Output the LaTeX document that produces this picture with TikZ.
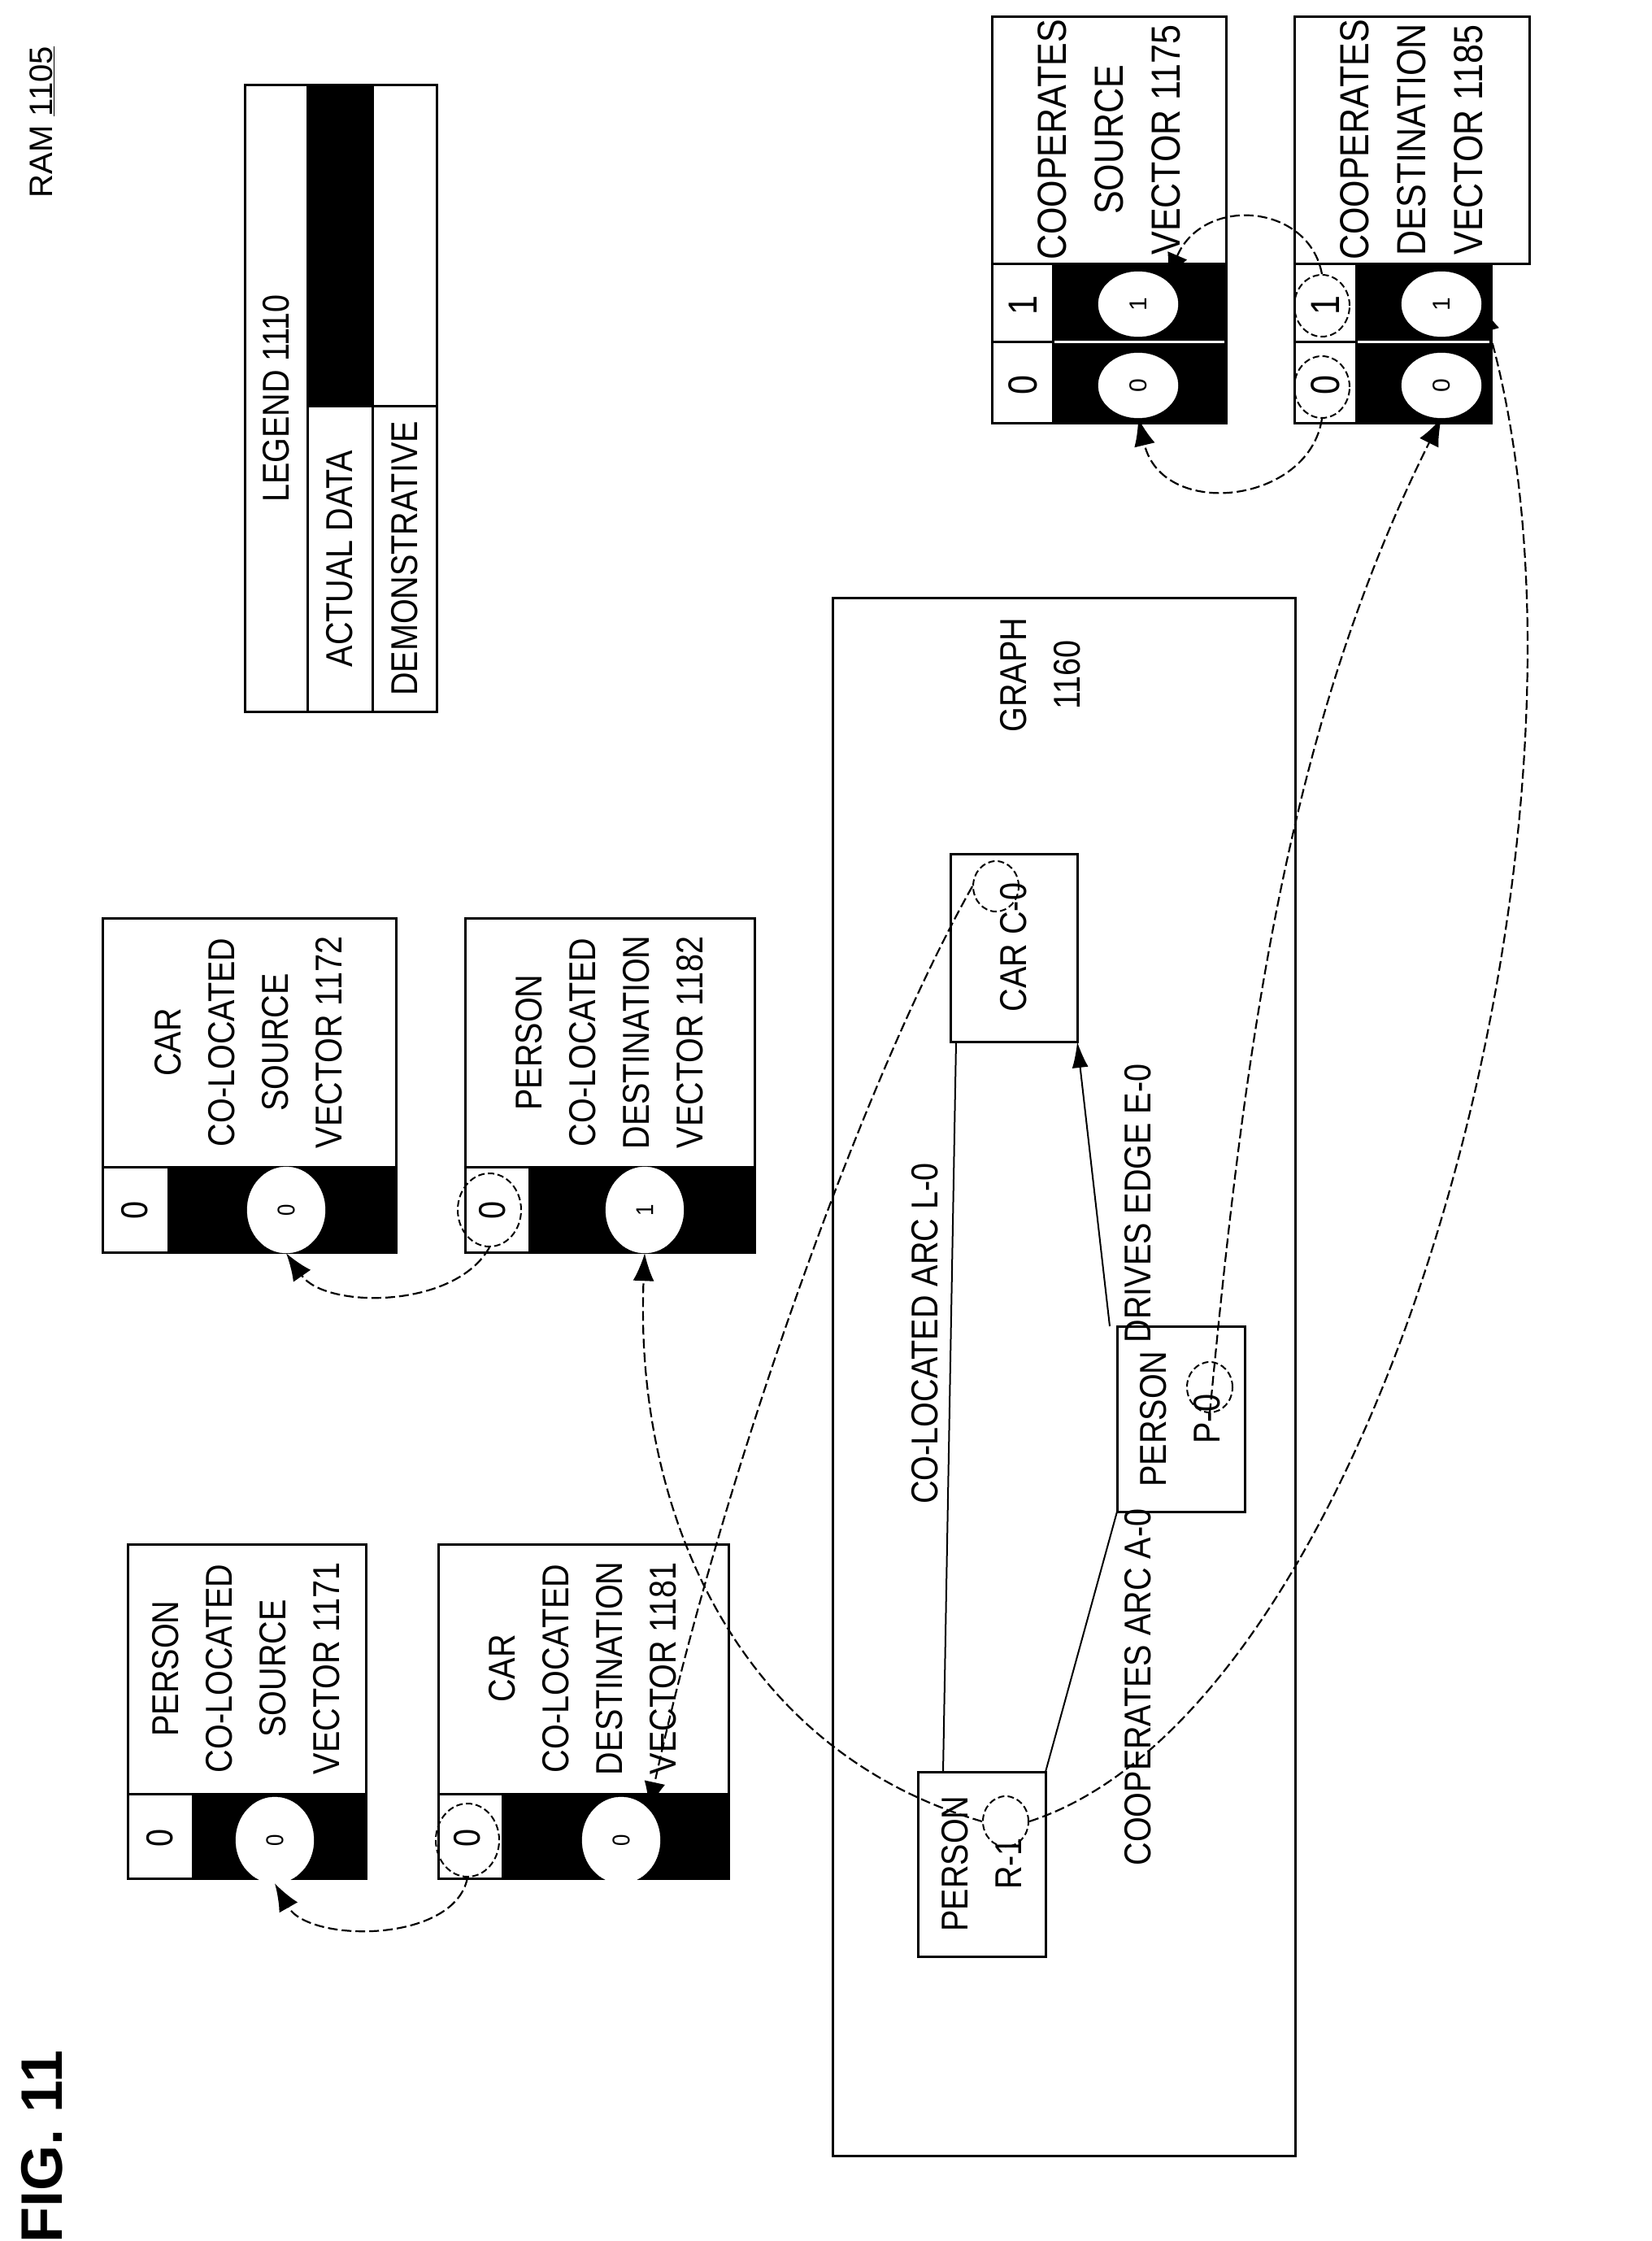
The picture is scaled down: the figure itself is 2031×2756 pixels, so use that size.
\documentclass[tikz,border=0pt]{standalone}
\usepackage{fontspec}
\setmainfont{Liberation Sans}
\newfontfamily\narrowf[FakeStretch=0.86]{Liberation Sans}
\usetikzlibrary{arrows.meta,calc,shapes.geometric}
\begin{document}
\begin{tikzpicture}[x=1pt,y=-1pt,
  bx/.style={draw,line width=3pt},
  lbl/.style={rotate=90,align=center,font=\narrowf\fontsize{46}{66}\selectfont},
  lblw/.style={rotate=90,align=center,font=\narrowf\fontsize{50}{70}\selectfont},
  cel/.style={draw=white,fill=white,ellipse,inner sep=0pt},
  dc/.style={draw,dash pattern=on 8pt off 4pt,line width=2pt,ellipse,inner sep=0pt},
  con/.style={dash pattern=on 12pt off 5pt,line width=2.2pt,-{Latex[length=34pt,width=26pt]}},
  sol/.style={line width=2pt}]
\useasboundingbox (0,0) rectangle (2031,2756);
% titles
\node[rotate=90,font=\bfseries\fontsize{72}{80}\selectfont] (fig) at (52,2640) {FIG. 11};
\node[rotate=90,font=\fontsize{40}{48}\selectfont] (ram) at (52,150) {RAM \underline{1105}};
% legend
\draw[bx] (301,105) rectangle (537,875);
\draw[bx] (378,105) -- (378,875) (458,105) -- (458,875) (378,499) -- (537,499);
\fill (378,105) rectangle (458,499);
\node[lbl] (lg) at (340,490) {LEGEND 1110};
\node[lbl] (lga) at (418,687) {ACTUAL DATA};
\node[lbl] (lgd) at (498,687) {DEMONSTRATIVE};
% left vectors
\foreach \xa/\xb/\xc/\ya/\yb/\yc in {126/487/207/1129/1540/1435, 572/928/651/1129/1540/1435, 157/450/237/1899/2310/2206, 539/896/618/1899/2310/2206}{
  \fill (\xc,\yc) rectangle (\xb,\yb);
  \draw[bx] (\xa,\ya) rectangle (\xb,\yb);
  \draw[bx] (\xa,\yc) -- (\xb,\yc) (\xc,\yc) -- (\xc,\yb);
}
\node[lbl] (t1172) at (306,1282) {CAR\\CO-LOCATED\\SOURCE\\VECTOR 1172};
\node[lbl] (t1182) at (750,1282) {PERSON\\CO-LOCATED\\DESTINATION\\VECTOR 1182};
\node[lbl] (t1171) at (303,2052) {PERSON\\CO-LOCATED\\SOURCE\\VECTOR 1171};
\node[lbl] (t1181) at (717,2052) {CAR\\CO-LOCATED\\DESTINATION\\VECTOR 1181};
\node[lbl] (z1172) at (166,1488) {0};
\node[lbl] (z1182) at (606,1488) {0};
\node[lbl] (z1171) at (197,2260) {0};
\node[lbl] (z1181) at (575,2260) {0};
\node[cel,minimum width=96pt,minimum height=106pt] (c1172) at (352,1488) {\narrowf\fontsize{30}{30}\selectfont\rotatebox{90}{0}};
\node[cel,minimum width=96pt,minimum height=106pt] (c1182) at (793,1488) {\narrowf\fontsize{30}{30}\selectfont\rotatebox{90}{1}};
\node[cel,minimum width=96pt,minimum height=106pt] (c1171) at (338,2263) {\narrowf\fontsize{30}{30}\selectfont\rotatebox{90}{0}};
\node[cel,minimum width=96pt,minimum height=106pt] (c1181) at (764,2263) {\narrowf\fontsize{30}{30}\selectfont\rotatebox{90}{0}};
\node[dc,minimum width=78pt,minimum height=90pt] (d1182) at (602,1488) {};
\node[dc,minimum width=78pt,minimum height=90pt] (d1181) at (575,2263) {};
% right vectors
\fill (1295,324) rectangle (1508,520);
\draw[bx] (1220,21) rectangle (1508,520);
\draw[bx] (1220,324) -- (1508,324) (1220,420) -- (1295,420) (1295,324) -- (1295,520);
\draw[white,line width=3pt] (1297,420) -- (1506,420);
\fill (1668,324) rectangle (1834,520);
\draw[bx] (1592,21) rectangle (1881,324) (1592,324) rectangle (1834,520);
\draw[bx] (1592,420) -- (1668,420) (1668,324) -- (1668,520);
\draw[white,line width=3pt] (1670,420) -- (1832,420);
\node[lblw] (t1175) at (1364,172) {COOPERATES\\SOURCE\\VECTOR 1175};
\node[lblw] (t1185) at (1736,172) {COOPERATES\\DESTINATION\\VECTOR 1185};
\node[lblw] (o1175) at (1258,376) {1};
\node[lblw] (n1175) at (1258,474) {0};
\node[lblw] (o1185) at (1630,376) {1};
\node[lblw] (n1185) at (1630,474) {0};
\foreach \n/\x/\y/\t in {c1175a/1400/374/1, c1175b/1400/474/0, c1185a/1773/374/1, c1185b/1773/474/0}{
  \node[cel,minimum width=98pt,minimum height=80pt] (\n) at (\x,\y) {\fontsize{30}{30}\selectfont\rotatebox{90}{\t}};
}
\node[dc,minimum width=68pt,minimum height=76pt] (d1185a) at (1626,376) {};
\node[dc,minimum width=68pt,minimum height=76pt] (d1185b) at (1626,476) {};
% graph
\draw[bx] (1024,735) rectangle (1593,2651);
\node[lbl] (gt) at (1280,830) {GRAPH\\1160};
\draw[bx] (1169,1050) rectangle (1325,1281);
\draw[bx] (1374,1631) rectangle (1531,1859);
\draw[bx] (1129,2179) rectangle (1286,2406);
\node[lbl] (c0) at (1247,1165) {CAR C-0};
\node[lbl] (p0) at (1452,1745) {PERSON\\P-0};
\node[lbl] (r1) at (1207,2292) {PERSON\\R-1};
\node[dc,minimum width=56pt,minimum height=62pt] (dc0) at (1225,1090) {};
\node[dc,minimum width=56pt,minimum height=62pt] (dp0) at (1488,1706) {};
\node[dc,minimum width=56pt,minimum height=62pt] (dr1) at (1237,2240) {};
\coordinate (r1a) at (1160,2179);
\coordinate (c0a) at (1176,1281);
\coordinate (r1b) at (1286,2179);
\coordinate (p0b) at (1374,1859);
\coordinate (p0c) at (1365,1631);
\coordinate (c0c) at (1325,1281);
\draw[sol] (r1a) -- (c0a);
\draw[sol] (r1b) -- (p0b);
\draw[sol,-{Latex[length=32pt,width=20pt]}] (p0c) -- (c0c);
\node[lbl] (la) at (1138,1640) {CO-LOCATED ARC L-0};
\node[lbl] (lb) at (1400,2075) {COOPERATES ARC A-0};
\node[lbl] (lc) at (1400,1480) {DRIVES EDGE E-0};
% connectors
\draw[con] (d1182.south) .. controls (560,1610) and (400,1610) .. (c1172.south);
\draw[con] (d1181.south) .. controls (560,2390) and (380,2390) .. (c1171.south);
\draw[con] (d1185a.north) .. controls (1610,250) and (1480,240) .. (c1175a.north east);
\draw[con] (d1185b.south) .. controls (1610,620) and (1430,640) .. (c1175b.south);
\draw[con] (dc0.west) .. controls (1050,1350) and (880,1850) .. (c1181.north east);
\draw[con] (dr1.west) .. controls (900,2150) and (780,1850) .. (c1182.south);
\draw[con] (dr1.east) .. controls (1700,2100) and (2000,1000) .. (c1185a.east);
\draw[con] (dp0.south) .. controls (1530,1300) and (1580,900) .. (c1185b.south);
\end{tikzpicture}
\end{document}
